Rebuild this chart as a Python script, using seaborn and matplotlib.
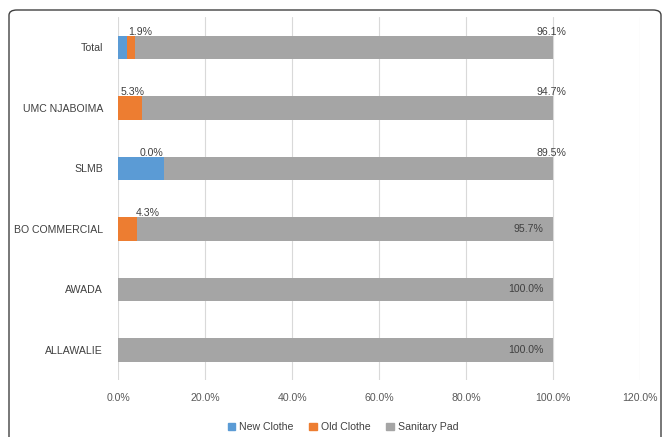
import matplotlib
matplotlib.use("Agg")
import matplotlib.pyplot as plt
import matplotlib.patches as mpatches
from matplotlib.ticker import FuncFormatter
import seaborn as sns
import pandas as pd
import numpy as np

categories = ["Total", "UMC NJABOIMA", "SLMB", "BO COMMERCIAL", "AWADA", "ALLAWALIE"]
new_clothe = [2.0, 0.0, 10.5, 0.0, 0.0, 0.0]
old_clothe = [1.9, 5.3, 0.0, 4.3, 0.0, 0.0]
sanitary_pad = [96.1, 94.7, 89.5, 95.7, 100.0, 100.0]
series_names = ["New Clothe", "Old Clothe", "Sanitary Pad"]
x_ticks = [0, 20, 40, 60, 80, 100, 120]

colors = {"New Clothe": "#5B9BD5", "Old Clothe": "#ED7D31", "Sanitary Pad": "#A5A5A5"}

sns.set_theme(style="white")
plt.rcParams["font.family"] = ["Liberation Sans", "DejaVu Sans"]

FS = 7.6

new_a = np.array(new_clothe)
old_a = np.array(old_clothe)
san_a = np.array(sanitary_pad)
df = pd.DataFrame({
    "cat": categories,
    "c_new": new_a,
    "c_old": new_a + old_a,
    "c_san": new_a + old_a + san_a,
})

fig = plt.figure(figsize=(6.62, 4.37), dpi=100)
ax = fig.add_axes([0.179, 0.130, 0.788, 0.831])

bw = 0.39
sns.barplot(data=df, y="cat", x="c_san", color=colors["Sanitary Pad"], width=bw,
            orient="h", ax=ax, saturation=1, zorder=3, linewidth=0)
sns.barplot(data=df, y="cat", x="c_old", color=colors["Old Clothe"], width=bw,
            orient="h", ax=ax, saturation=1, zorder=4, linewidth=0)
sns.barplot(data=df, y="cat", x="c_new", color=colors["New Clothe"], width=bw,
            orient="h", ax=ax, saturation=1, zorder=5, linewidth=0)

ax.set_xlim(0, 120)
ax.set_ylim(5.5, -0.5)
ax.set_xticks(x_ticks)
ax.xaxis.set_major_formatter(FuncFormatter(lambda v, p: f"{v:.1f}%"))
ax.set_xlabel("")
ax.set_ylabel("")
ax.grid(axis="x", color="#D9D9D9", linewidth=0.8, zorder=0)
ax.grid(axis="y", visible=False)
for s in ax.spines.values():
    s.set_visible(False)
ax.tick_params(axis="x", length=0, pad=9, labelsize=FS, labelcolor="#595959")
ax.tick_params(axis="y", length=0, pad=11, labelsize=FS, labelcolor="#404040")

# data labels (Excel-style placements)
old_label_offset = [1.95, 0.65, -3.0, 4.65, None, None]
top_half = bw / 2
for i, cat in enumerate(categories):
    if old_label_offset[i] is not None:
        xo = new_clothe[i] + old_clothe[i] / 2 + old_label_offset[i]
        ax.text(xo, i - top_half + 0.02, f"{old_clothe[i]:.1f}%", ha="center", va="bottom",
                fontsize=FS, color="#404040", zorder=6)
    total = new_clothe[i] + old_clothe[i] + sanitary_pad[i]
    if i < 3:
        ax.text(total - 0.5, i - top_half + 0.02, f"{sanitary_pad[i]:.1f}%", ha="center",
                va="bottom", fontsize=FS, color="#404040", zorder=6)
    else:
        ax.text(total - 2.3, i, f"{sanitary_pad[i]:.1f}%", ha="right", va="center",
                fontsize=FS, color="#404040", zorder=6)

handles = [mpatches.Patch(color=colors[n], label=n) for n in series_names]
fig.legend(handles=handles, loc="center", bbox_to_anchor=(343 / 662, 1 - 427 / 437),
           ncol=3, frameon=False, fontsize=FS, handlelength=0.7, handleheight=0.7,
           handletextpad=0.4, columnspacing=1.5, labelcolor="#404040")

border = mpatches.FancyBboxPatch((9 / 662, -0.02), 1 - 10 / 662, 1 - 10 / 437 + 0.02,
                                 boxstyle="round,pad=0,rounding_size=0.012",
                                 transform=fig.transFigure, fill=False,
                                 edgecolor="#404040", linewidth=1.0)
fig.patches.append(border)

fig.savefig("out.png", dpi=100)
